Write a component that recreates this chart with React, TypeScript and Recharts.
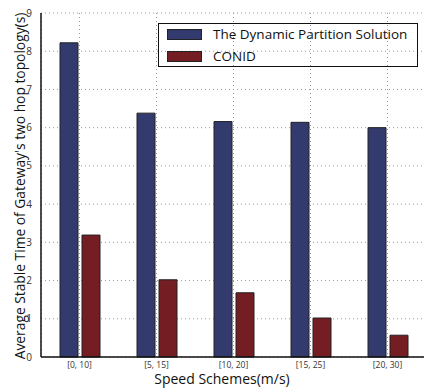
import { Bar, BarChart, CartesianGrid, Legend, XAxis, YAxis } from "recharts"

const schemes = ["[0, 10]", "[5, 15]", "[10, 20]", "[15, 25]", "[20, 30]"]
const dynamicPartition = [8.22, 6.38, 6.16, 6.14, 6.0]
const conid = [3.19, 2.02, 1.68, 1.02, 0.57]
const yTicks = [0, 1, 2, 3, 4, 5, 6, 7, 8, 9]

const data = schemes.map((name, i) => ({
  name,
  dps: dynamicPartition[i],
  conid: conid[i],
}))

const FONT = "'Open Sans', sans-serif"
const BLUE = "#333a6e"
const RED = "#741d22"

function LegendBox() {
  const rows = [
    { color: BLUE, label: "The Dynamic Partition Solution" },
    { color: RED, label: "CONID" },
  ]
  return (
    <div
      style={{
        position: "relative",
        width: 258,
        height: 42,
        border: "1px solid #111",
        fontFamily: FONT,
        fontSize: 13.5,
        color: "#111",
      }}
    >
      {rows.map((r, i) => (
        <div key={r.label} style={{ position: "absolute", left: 8, top: 5 + i * 22, height: 11, display: "flex", alignItems: "center" }}>
          <div style={{ width: 33, height: 9, background: r.color, border: "1px solid #222" }} />
          <span style={{ marginLeft: 11, whiteSpace: "nowrap", lineHeight: "11px" }}>{r.label}</span>
        </div>
      ))}
    </div>
  )
}

function YLabel() {
  return (
    <text
      x={19}
      y={186}
      transform="rotate(-90 19 186)"
      textAnchor="middle"
      dominantBaseline="central"
      fontFamily={FONT}
      fontSize={13.8}
      fill="#111"
    >
      Average Stable Time of Gateway's two hop topology(s)
    </text>
  )
}

function XLabel() {
  return (
    <text x={222} y={384} textAnchor="middle" fontFamily={FONT} fontSize={14} fill="#111">
      Speed Schemes(m/s)
    </text>
  )
}

export default function App() {
  return (
    <div style={{ position: "absolute", left: 0, top: 0, width: 424, height: 388, overflow: "hidden", background: "#fff" }}>
      <BarChart
        width={430}
        height={388}
        data={data}
        margin={{ top: 13, right: 4, bottom: 0, left: 0 }}
        barSize={18}
        barGap={4}
      >
        <CartesianGrid stroke="#999" strokeDasharray="1 3" />
        <XAxis
          dataKey="name"
          height={31}
          tickLine={false}
          axisLine={{ stroke: "#111", strokeWidth: 1.5 }}
          tick={{ fontSize: 8.5, fill: "#333", fontFamily: FONT }}
          tickMargin={-1}
          label={<XLabel />}
        />
        <XAxis
          xAxisId="top"
          dataKey="name"
          orientation="top"
          height={0}
          mirror
          tickSize={4}
          tick={() => <g />}
          axisLine={{ stroke: "#111", strokeWidth: 1 }}
          tickLine={{ stroke: "#111" }}
        />
        <YAxis
          width={41}
          domain={[0, 9]}
          ticks={yTicks}
          interval={0}
          tickLine={false}
          tickMargin={3}
          axisLine={{ stroke: "#111", strokeWidth: 1.5 }}
          tick={{ fontSize: 10, fill: "#333", fontFamily: FONT }}
          label={<YLabel />}
        />
        <Legend
          layout="vertical"
          align="center"
          verticalAlign="middle"
          wrapperStyle={{ left: 158, top: 23, width: 260 }}
          content={() => <LegendBox />}
        />
        <Bar dataKey="dps" name="The Dynamic Partition Solution" fill={BLUE} stroke="#222" strokeWidth={1} isAnimationActive={false} />
        <Bar dataKey="conid" name="CONID" fill={RED} stroke="#222" strokeWidth={1} isAnimationActive={false} />
      </BarChart>
    </div>
  )
}
